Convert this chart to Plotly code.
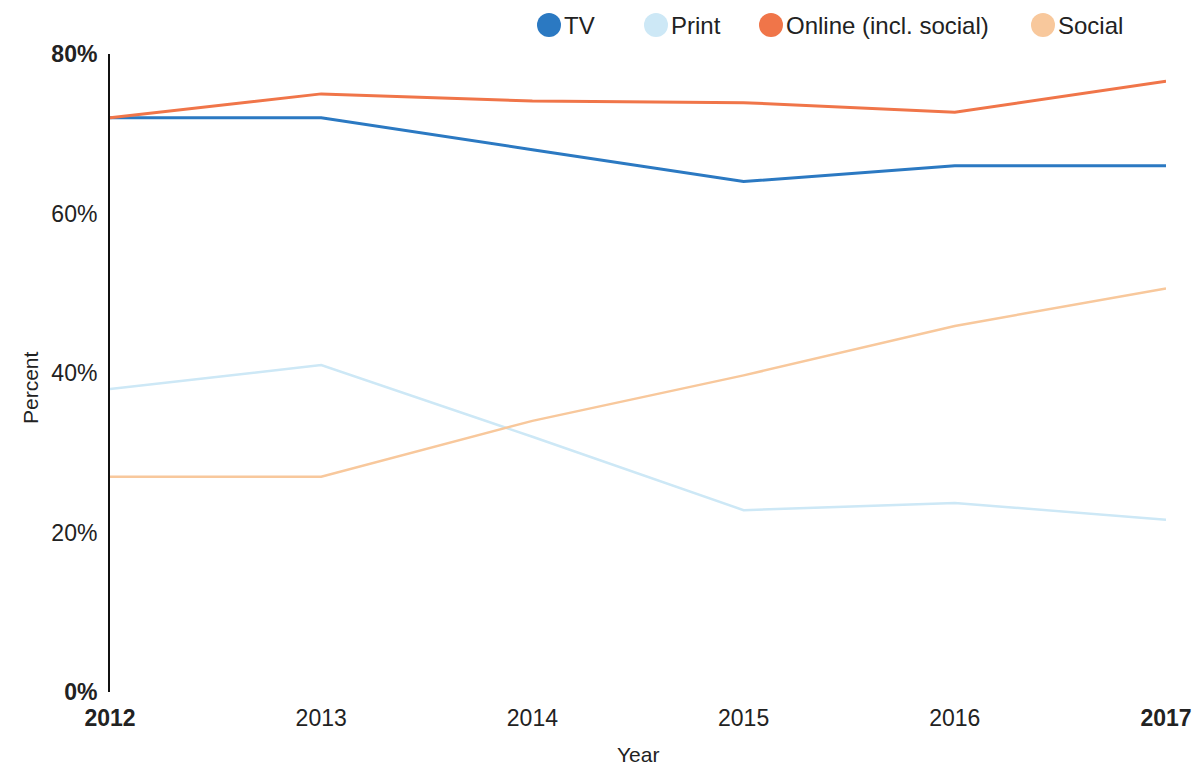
import plotly.graph_objects as go

years = [2012, 2013, 2014, 2015, 2016, 2017]
tv = [72, 72, 68, 64, 66, 66]
print_ = [38, 41, 32, 22.8, 23.7, 21.6]
online = [72, 75, 74.1, 73.9, 72.7, 76.6]
social = [27, 27, 34, 39.7, 45.9, 50.6]

series_names = ["TV", "Print", "Online (incl. social)", "Social"]
series_values = [tv, print_, online, social]
series_colors = ["#2b79c2", "#cde8f6", "#f07549", "#f8c89c"]
series_widths = [3, 2.5, 3, 2.5]

y_tickvals = [0, 20, 40, 60, 80]
y_ticktext = ["<b>0%</b>", "20%", "40%", "60%", "<b>80%</b>"]
x_ticktext = ["<b>2012</b>", "2013", "2014", "2015", "2016", "<b>2017</b>"]

W, H = 1204, 767
ML, MR, MT, MB = 110, 38, 54, 75
pw = W - ML - MR
ph = H - MT - MB


def px_to_paper(px, py):
    return (px - ML) / pw, (H - MB - py) / ph


fig = go.Figure()
for name, vals, color, w in zip(series_names, series_values, series_colors, series_widths):
    fig.add_trace(go.Scatter(x=years, y=vals, mode="lines", name=name,
                             line=dict(color=color, width=w), showlegend=False))

# legend row drawn as circles + labels across the top
legend_px = [549, 656, 771, 1043]
legend_py = 25
shapes, annotations = [], []
for name, color, px in zip(series_names, series_colors, legend_px):
    xp, yp = px_to_paper(px, legend_py)
    shapes.append(dict(type="circle", xref="paper", yref="paper",
                       xsizemode="pixel", ysizemode="pixel",
                       xanchor=xp, yanchor=yp, x0=-12, x1=12, y0=-12, y1=12,
                       fillcolor=color, line=dict(width=0)))
    tx, _ = px_to_paper(px + 13, legend_py)
    annotations.append(dict(text=name, xref="paper", yref="paper",
                            x=tx, y=yp, xanchor="left", yanchor="middle",
                            showarrow=False, font=dict(size=24, color="#222")))

# axis titles
ax, ay = px_to_paper(638, 754)
annotations.append(dict(text="Year", xref="paper", yref="paper", x=ax, y=ay,
                        xanchor="center", yanchor="middle", showarrow=False,
                        font=dict(size=21, color="#222")))
bx, by = px_to_paper(30, 388)
annotations.append(dict(text="Percent", xref="paper", yref="paper", x=bx, y=by,
                        xanchor="center", yanchor="middle", showarrow=False,
                        textangle=-90, font=dict(size=21, color="#222")))

fig.update_layout(
    width=W, height=H,
    margin=dict(l=ML, r=MR, t=MT, b=MB),
    plot_bgcolor="white", paper_bgcolor="white",
    font=dict(family="Liberation Sans, Arial, sans-serif", color="#222"),
    shapes=shapes, annotations=annotations,
    xaxis=dict(range=[2012, 2017], tickvals=years, ticktext=x_ticktext,
               showgrid=False, zeroline=False, showline=False,
               tickfont=dict(size=23), ticklabelstandoff=10),
    yaxis=dict(range=[0, 80], tickvals=y_tickvals, ticktext=y_ticktext,
               showgrid=False, zeroline=False, showline=True,
               linecolor="#111", linewidth=2,
               tickfont=dict(size=23), ticklabelstandoff=6),
)

fig.write_html("out.html")
